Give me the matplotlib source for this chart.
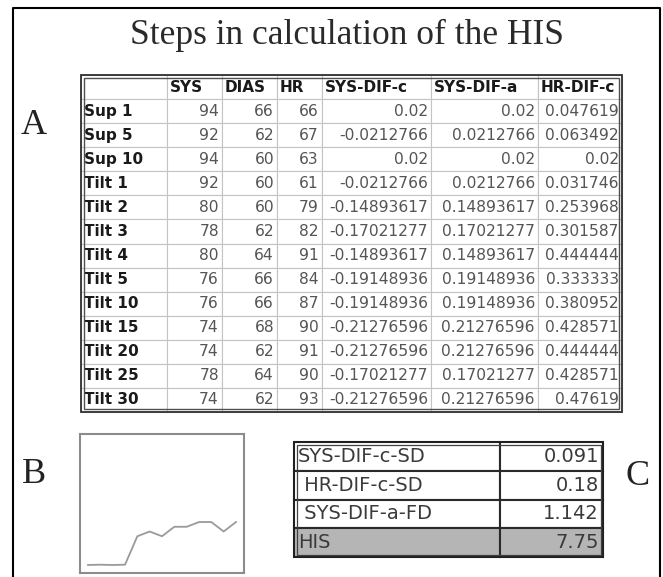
import numpy as np
import matplotlib.pyplot as plt
from matplotlib.patches import Rectangle

W, H = 663, 577

# table A
header = ["", "SYS", "DIAS", "HR", "SYS-DIF-c", "SYS-DIF-a", "HR-DIF-c"]
steps = ["Sup 1", "Sup 5", "Sup 10", "Tilt 1", "Tilt 2", "Tilt 3", "Tilt 4",
         "Tilt 5", "Tilt 10", "Tilt 15", "Tilt 20", "Tilt 25", "Tilt 30"]
sys_bp = [94, 92, 94, 92, 80, 78, 80, 76, 76, 74, 74, 78, 74]
dias_bp = [66, 62, 60, 60, 60, 62, 64, 66, 66, 68, 62, 64, 62]
hr = [66, 67, 63, 61, 79, 82, 91, 84, 87, 90, 91, 90, 93]
sys_dif_c = [0.02, -0.0212766, 0.02, -0.0212766, -0.14893617, -0.17021277, -0.14893617,
             -0.19148936, -0.19148936, -0.21276596, -0.21276596, -0.17021277, -0.21276596]
sys_dif_a = [0.02, 0.0212766, 0.02, 0.0212766, 0.14893617, 0.17021277, 0.14893617,
             0.19148936, 0.19148936, 0.21276596, 0.21276596, 0.17021277, 0.21276596]
hr_dif_c = [0.047619, 0.063492, 0.02, 0.031746, 0.253968, 0.301587, 0.444444,
            0.333333, 0.380952, 0.428571, 0.444444, 0.428571, 0.47619]

# table C
summary_names = ["SYS-DIF-c-SD", " HR-DIF-c-SD", " SYS-DIF-a-FD", "HIS"]
summary_values = ["0.091", "0.18", "1.142", "7.75"]


def box(x0, y0, x1, y1):
    # pixel box -> axes fraction bbox
    return [x0 / W, 1 - y1 / H, (x1 - x0) / W, (y1 - y0) / H]


fig = plt.figure(figsize=(W / 100, H / 100), dpi=100)
ax = fig.add_axes([0, 0, 1, 1])
ax.set_xlim(0, W)
ax.set_ylim(H, 0)
ax.axis('off')

# page frame
ax.plot([13, 13, 660, 660], [H, 8, 8, H], color='black', lw=1.5)

serif = 'Liberation Serif'
ax.text(347, 44, "Steps in calculation of the HIS", family=serif, fontsize=25.5,
        ha='center', va='baseline', color='#2a2a2a')
ax.text(34, 134, "A", family=serif, fontsize=26, ha='center', va='baseline', color='#222')
ax.text(34, 483, "B", family=serif, fontsize=26, ha='center', va='baseline', color='#222')
ax.text(638, 485, "C", family=serif, fontsize=26, ha='center', va='baseline', color='#222')

# ---- table A
rows = [header]
for i in range(len(steps)):
    rows.append([steps[i], str(sys_bp[i]), str(dias_bp[i]), str(hr[i]),
                 str(sys_dif_c[i]), str(sys_dif_a[i]), str(hr_dif_c[i])])
col_px = [86, 55, 55, 45, 109, 107, 84]
ta = ax.table(cellText=rows, colWidths=[w / sum(col_px) for w in col_px],
              cellLoc='right', bbox=box(81, 75, 622, 412))
ta.auto_set_font_size(False)
for (r, c), cell in ta.get_celld().items():
    cell.set_edgecolor('#c4c4c4')
    cell.set_linewidth(0.8)
    t = cell.get_text()
    t.set_family('DejaVu Sans')
    cell.PAD = 3 / col_px[c]
    if r == 0 or c == 0:
        t.set_ha('left')
        t.set_fontweight('bold')
        t.set_fontsize(11)
        t.set_color('#1a1a1a')
    else:
        t.set_fontsize(11.2)
        t.set_color('#555555')
ax.add_patch(Rectangle((81, 75), 541, 337, fill=False, ec='#303030', lw=1.3))
ax.add_patch(Rectangle((84, 78), 535, 331, fill=False, ec='#505050', lw=1.0))

# ---- table C
c_px = [206, 103]
tc = ax.table(cellText=[[n, v] for n, v in zip(summary_names, summary_values)],
              colWidths=[w / sum(c_px) for w in c_px], cellLoc='left',
              bbox=box(294, 442, 603, 557))
tc.auto_set_font_size(False)
for (r, c), cell in tc.get_celld().items():
    cell.set_edgecolor('#2a2a2a')
    cell.set_linewidth(1.5)
    if r == len(summary_names) - 1:
        cell.set_facecolor('#b5b5b5')
    t = cell.get_text()
    t.set_family('DejaVu Sans')
    t.set_fontsize(14)
    t.set_color('#3a3a3a')
    cell.PAD = 4 / c_px[c]
    if c == 1:
        t.set_ha('right')
ax.add_patch(Rectangle((294, 442), 309, 115, fill=False, ec='#202020', lw=1.3))
ax.add_patch(Rectangle((296.5, 444.5), 304, 110, fill=False, ec='#404040', lw=0.9))

# ---- panel B
axb = fig.add_axes(box(80, 434, 244, 573))
axb.plot(np.arange(len(sys_dif_a)), sys_dif_a, color='#9a9a9a', lw=1.3)
axb.set_xlim(-0.65, 12.65)
axb.set_ylim(-0.016, 0.608)
axb.set_xticks([])
axb.set_yticks([])
for sp in axb.spines.values():
    sp.set_color('#8c8c8c')
    sp.set_linewidth(1.5)

fig.savefig('out.png', dpi=100)
